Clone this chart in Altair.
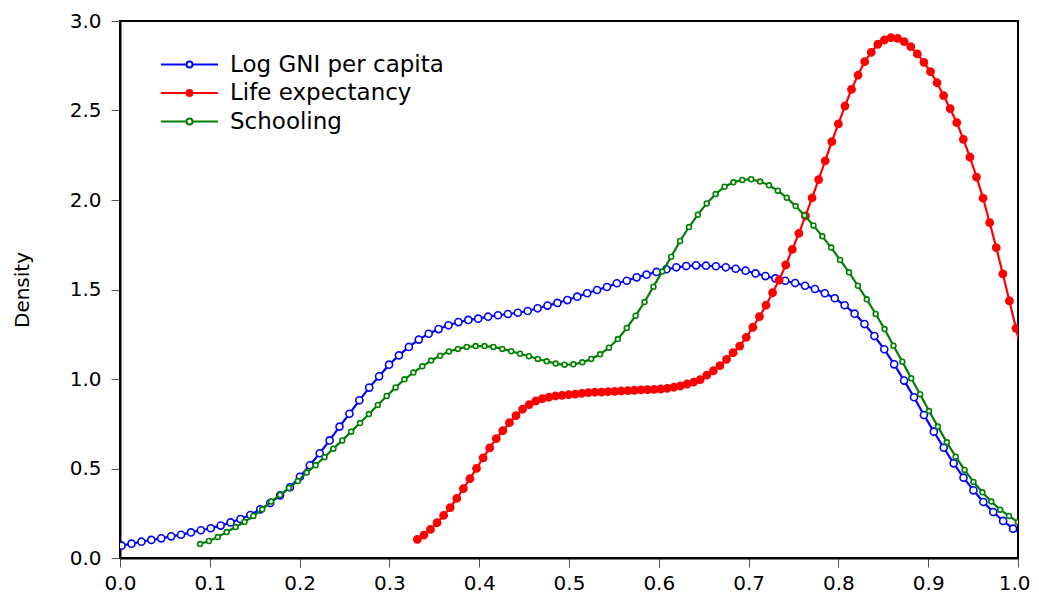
import altair as alt
import pandas as pd

alt.data_transformers.disable_max_rows()

series = ["Log GNI per capita", "Life expectancy", "Schooling"]
line_colors = ["#0000ff", "#ff0000", "#008000"]
fill_colors = ["#ffffff", "#ff0000", "#ffffff"]
marker_sizes = [50, 52, 24]

# kernel density grids: first x, step between evaluation points
gni_start, gni_step = 0.0018, 0.01103
gni = [0.069, 0.080, 0.091, 0.101, 0.110, 0.121, 0.130, 0.143, 0.155, 0.166,
       0.181, 0.199, 0.218, 0.240, 0.272, 0.307, 0.350, 0.395, 0.454, 0.518,
       0.585, 0.657, 0.734, 0.806, 0.881, 0.952, 1.015, 1.080, 1.132, 1.179,
       1.220, 1.253, 1.279, 1.300, 1.318, 1.330, 1.337, 1.348, 1.356, 1.363,
       1.370, 1.380, 1.395, 1.410, 1.425, 1.441, 1.460, 1.479, 1.497, 1.514,
       1.535, 1.549, 1.568, 1.583, 1.598, 1.613, 1.624, 1.631, 1.635, 1.633,
       1.630, 1.624, 1.616, 1.605, 1.590, 1.575, 1.562, 1.549, 1.536, 1.521,
       1.503, 1.479, 1.451, 1.412, 1.365, 1.307, 1.240, 1.166, 1.082, 0.991,
       0.898, 0.799, 0.706, 0.616, 0.529, 0.449, 0.378, 0.313, 0.257, 0.207,
       0.164, 0.130]

life_start, life_step = 0.3311, 0.007326
life = [0.104, 0.128, 0.160, 0.197, 0.238, 0.281, 0.333, 0.387, 0.443, 0.501,
        0.559, 0.615, 0.667, 0.711, 0.756, 0.795, 0.831, 0.857, 0.877, 0.890,
        0.898, 0.905, 0.909, 0.912, 0.916, 0.920, 0.924, 0.926, 0.927, 0.929,
        0.931, 0.933, 0.935, 0.937, 0.939, 0.940, 0.942, 0.944, 0.948, 0.954,
        0.961, 0.972, 0.983, 0.997, 1.022, 1.046, 1.075, 1.110, 1.147, 1.184,
        1.233, 1.289, 1.348, 1.412, 1.482, 1.553, 1.637, 1.724, 1.814, 1.911,
        2.012, 2.114, 2.219, 2.326, 2.425, 2.525, 2.618, 2.698, 2.773, 2.825,
        2.870, 2.894, 2.907, 2.903, 2.885, 2.857, 2.816, 2.769, 2.717, 2.655,
        2.583, 2.510, 2.432, 2.339, 2.239, 2.128, 2.010, 1.873, 1.734, 1.587,
        1.436, 1.283, 1.130]

school_start, school_step = 0.0891, 0.0099
school = [0.078, 0.095, 0.117, 0.145, 0.173, 0.201, 0.235, 0.272, 0.315, 0.352,
          0.391, 0.430, 0.477, 0.518, 0.563, 0.611, 0.657, 0.706, 0.754, 0.804,
          0.855, 0.905, 0.953, 0.998, 1.036, 1.071, 1.103, 1.130, 1.154, 1.168,
          1.179, 1.184, 1.184, 1.179, 1.168, 1.155, 1.141, 1.127, 1.112, 1.099,
          1.086, 1.080, 1.082, 1.093, 1.112, 1.138, 1.175, 1.223, 1.285, 1.354,
          1.430, 1.516, 1.600, 1.683, 1.771, 1.849, 1.918, 1.981, 2.033, 2.074,
          2.099, 2.112, 2.116, 2.103, 2.082, 2.052, 2.013, 1.966, 1.914, 1.858,
          1.797, 1.734, 1.665, 1.596, 1.521, 1.445, 1.363, 1.279, 1.186, 1.097,
          1.004, 0.915, 0.821, 0.734, 0.646, 0.566, 0.492, 0.425, 0.367, 0.315,
          0.270, 0.235, 0.200, 0.170]

x_ticks = [0.0, 0.1, 0.2, 0.3, 0.4, 0.5, 0.6, 0.7, 0.8, 0.9, 1.0]
y_ticks = [0.0, 0.5, 1.0, 1.5, 2.0, 2.5, 3.0]

rows = []
for name, start, step, vals in [(series[0], gni_start, gni_step, gni),
                                (series[1], life_start, life_step, life),
                                (series[2], school_start, school_step, school)]:
    for i, v in enumerate(vals):
        rows.append({"x": start + step * i, "density": v, "series": name})
df = pd.DataFrame(rows)

# legend symbol: line with a circle marker in the middle
legend_path = "M-14.25,0H-1.5M1.5,0H14.25M-1.5,0A1.5,1.5,0,1,1,1.5,0A1.5,1.5,0,1,1,-1.5,0Z"
leg = alt.Legend(title=None, orient="none", legendX=58, legendY=32, padding=0,
                 symbolType=legend_path, symbolSize=16, symbolStrokeWidth=2,
                 labelFont="DejaVu Sans", labelFontSize=23, labelColor="black",
                 labelOffset=29, labelLimit=0, rowPadding=4.5)

# last x label kept inside the page: right-aligned, nudged outward
x = alt.X("x:Q", scale=alt.Scale(domain=[0, 1], nice=False, zero=False),
          axis=alt.Axis(values=x_ticks, format=".1f", title=None, labelFlush=False,
                        labelPadding=6,
                        labelAlign={"expr": "datum.value >= 1 ? 'right' : 'center'"},
                        labelOffset={"expr": "datum.value >= 1 ? 12 : 0"}))
y = alt.Y("density:Q", scale=alt.Scale(domain=[0, 3], nice=False),
          axis=alt.Axis(values=y_ticks, format=".1f", title="Density", labelPadding=10,
                        titleX=-88, titleY=268.5))
stroke = alt.Stroke("series:N", scale=alt.Scale(domain=series, range=line_colors), legend=leg)
fill = alt.Fill("series:N", scale=alt.Scale(domain=series, range=fill_colors), legend=leg)

layers = []
for name, col, size in zip(series, line_colors, marker_sizes):
    one = alt.Chart(df).transform_filter(alt.datum.series == name)
    layers.append(one.mark_line(color=col, strokeWidth=2.2, clip=True).encode(x=x, y=y))
    layers.append(one.mark_point(size=size, strokeWidth=1.6, opacity=1, clip=True).encode(
        x=x, y=y, stroke=stroke, fill=fill))

chart = alt.layer(*layers).properties(
    width=898, height=537,
    autosize=alt.AutoSizeParams(type="none"),
    padding={"left": 112, "top": 13, "right": 13, "bottom": 37},
).configure_view(
    stroke="black", strokeWidth=2
).configure_axis(
    grid=False, domainColor="black", domainWidth=2,
    tickColor="#555555", tickWidth=1, tickSize=9,
    labelFont="DejaVu Sans", labelFontSize=20, labelColor="black",
    titleFont="DejaVu Sans", titleFontSize=20, titleFontWeight="normal", titleColor="black",
)

chart.save("out.html", embed_options={"renderer": "svg", "actions": False})
